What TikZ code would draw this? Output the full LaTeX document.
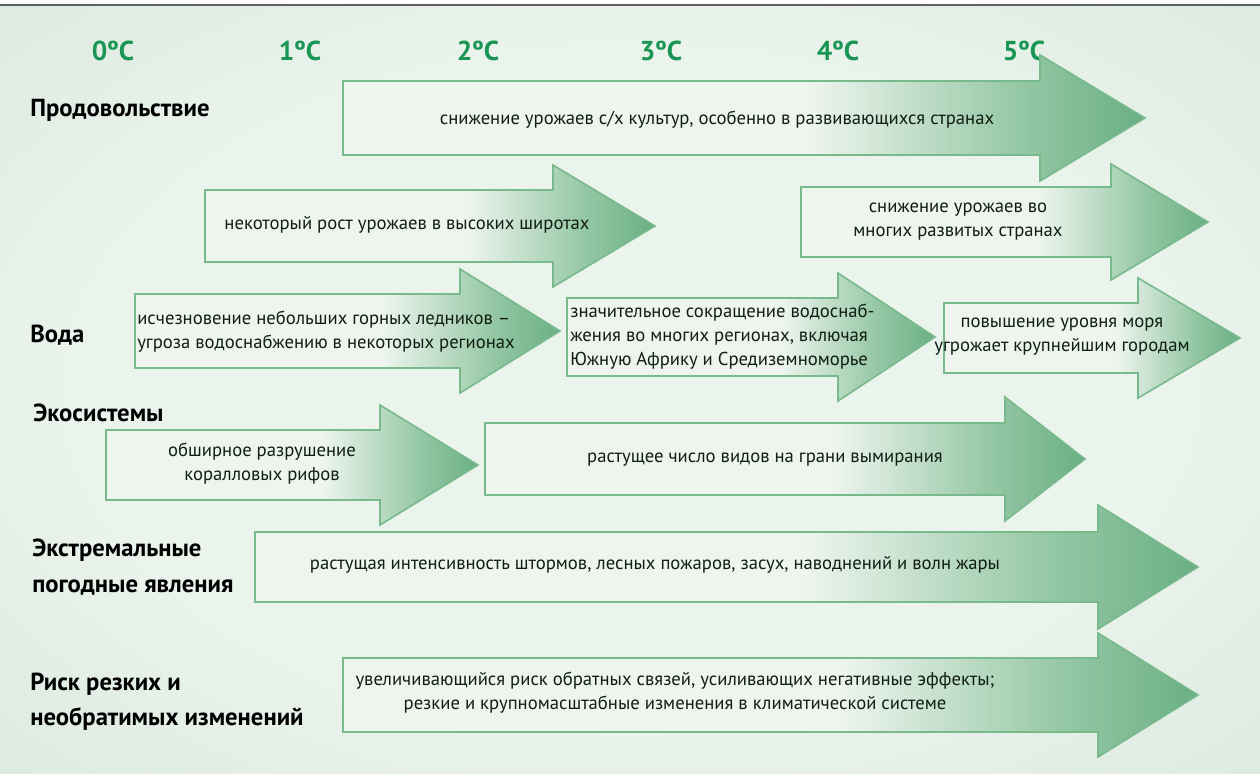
\documentclass[tikz,border=0pt]{standalone}
\usepackage{fontspec}
\setmainfont{PT Sans}
\definecolor{alight}{RGB}{238,245,239}
\definecolor{amid}{RGB}{150,200,165}
\definecolor{agreen}{RGB}{84,163,116}
\definecolor{adark}{RGB}{74,155,106}
\definecolor{aline}{RGB}{120,186,140}
\definecolor{bglight}{RGB}{234,243,236}
\definecolor{bgdark}{RGB}{206,226,211}
\definecolor{degc}{RGB}{26,150,84}
\definecolor{txt}{RGB}{16,30,20}
\definecolor{topline}{RGB}{95,95,95}
\pgfdeclarehorizontalshading{arrowfade}{100bp}{color(0bp)=(alight); color(54bp)=(alight); color(67bp)=(amid); color(79bp)=(agreen); color(100bp)=(adark)}
\pgfdeclareradialshading{bgshade}{\pgfpoint{0bp}{0bp}}{color(0bp)=(bglight); color(22bp)=(bglight); color(50bp)=(bgdark); color(70bp)=(bgdark)}
\tikzset{
  arr/.style={shading=arrowfade, draw=aline, line width=1.2pt},
  atext/.style={font=\fontsize{14}{18}\selectfont, text=txt, align=center, inner sep=0pt},
  atextl/.style={atext, align=left, anchor=west},
  lbl/.style={font=\bfseries\fontsize{18.5}{26.5}\selectfont, anchor=west, align=left, inner sep=0pt, text=black},
  deg/.style={font=\bfseries\fontsize{20.5}{24}\selectfont, text=degc, inner sep=0pt},
}
% xl, xb, xt, ymid, half body, half head
\newcommand\climarrow[6]{%
  \path[arr] (#1,{#4-#5}) -- (#2,{#4-#5}) -- (#2,{#4-#6}) -- (#3,#4) -- (#2,{#4+#6}) -- (#2,{#4+#5}) -- (#1,{#4+#5}) -- cycle;}
\begin{document}
\begin{tikzpicture}[x=0.75pt,y=-0.75pt]
\useasboundingbox (0,0) rectangle (1260,774);
\fill[white] (0,0) rectangle (1260,774);
\path[shading=bgshade] (0,6) rectangle (1260,774);
\draw[topline, line width=1.8pt] (0,5) -- (1260,5);

% temperature scale
\node[deg] (t0) at (113,51) {0ºC};
\node[deg] (t1) at (300,51) {1ºC};
\node[deg] (t2) at (478,51) {2ºC};
\node[deg] (t3) at (661,51) {3ºC};
\node[deg] (t4) at (838,51) {4ºC};
\node[deg] (t5) at (1024,51) {5ºC};

% row labels
\node[lbl] (lfood) at (30,110) {Продовольствие};
\node[lbl] (lwater) at (30,335) {Вода};
\node[lbl] (leco) at (33,413) {Экосистемы};
\node[lbl] (lext) at (32,567) {Экстремальные\\погодные явления};
\node[lbl] (lrisk) at (30,702) {Риск резких и\\необратимых изменений};

% arrows
\climarrow{343}{1040}{1145}{118}{37}{63}
\climarrow{205}{553}{655}{226}{36}{61}
\climarrow{801}{1111}{1208}{222}{35}{58}
\climarrow{135}{460}{560}{331}{37}{62}
\climarrow{567}{838}{935}{337}{39}{64}
\climarrow{944}{1138}{1240}{338}{35}{60}
\climarrow{106}{380}{478}{465}{35}{60}
\climarrow{485}{1005}{1085}{459}{36}{62}
\climarrow{255}{1098}{1198}{567}{35}{62}
\climarrow{343}{1098}{1198}{695}{37}{62}

% arrow texts
\node[atext] (a1) at (717,120) {снижение урожаев с/х культур, особенно в развивающихся странах};
\node[atext] (a2) at (407,225) {некоторый рост урожаев в высоких широтах};
\node[atext] (a3) at (958,222) {снижение урожаев во\\многих развитых странах};
\node[atextl] (a4) at (137,332) {исчезновение небольших горных ледников –\\угроза водоснабжению в некоторых регионах};
\node[atextl] (a5) at (570,337) {значительное сокращение водоснаб-\\жения во многих регионах, включая\\Южную Африку и Средиземноморье};
\node[atext] (a6) at (1062,337) {повышение уровня моря\\угрожает крупнейшим городам};
\node[atext] (a7) at (262,464) {обширное разрушение\\коралловых рифов};
\node[atext] (a8) at (765,460) {растущее число видов на грани вымирания};
\node[atext] (a9) at (655,565) {растущая интенсивность штормов, лесных пожаров, засух, наводнений и волн жары};
\node[atext] (a10) at (675,693) {увеличивающийся риск обратных связей, усиливающих негативные эффекты;\\резкие и крупномасштабные изменения в климатической системе};
\end{tikzpicture}
\end{document}
